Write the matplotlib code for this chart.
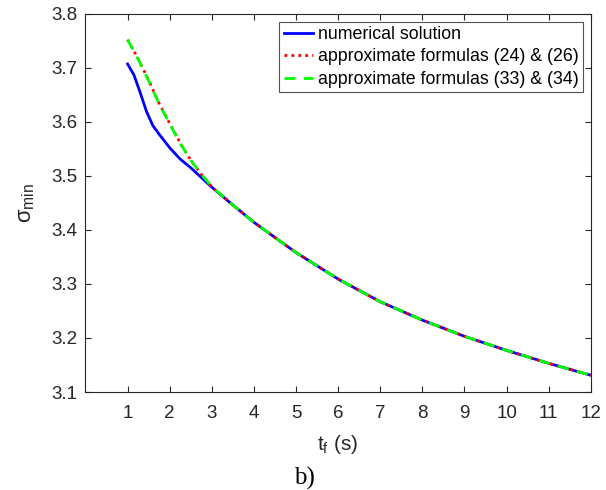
import numpy as np
import matplotlib
matplotlib.use('Agg')
import matplotlib.pyplot as plt

# values
tf_num = [1, 1.15, 1.3, 1.45, 1.6, 1.75, 2, 2.25, 2.5, 3, 3.5, 4, 5, 6, 7, 8, 9, 10, 11, 12]
sig_num = [3.707, 3.687, 3.654, 3.619, 3.593, 3.577, 3.552, 3.531, 3.515, 3.479, 3.446,
           3.414, 3.358, 3.309, 3.267, 3.233, 3.203, 3.177, 3.153, 3.131]

tf_apx = [1, 1.25, 1.5, 1.75, 2, 2.25, 2.5, 2.75, 3, 3.5, 4, 5, 6, 7, 8, 9, 10, 11, 12]
sig_apx1 = [3.752, 3.717, 3.677, 3.634, 3.597, 3.561, 3.529, 3.503, 3.480, 3.446, 3.414,
            3.358, 3.309, 3.267, 3.233, 3.203, 3.177, 3.153, 3.131]
sig_apx2 = [3.752, 3.716, 3.676, 3.633, 3.596, 3.560, 3.529, 3.503, 3.480, 3.446, 3.414,
            3.358, 3.309, 3.267, 3.233, 3.203, 3.177, 3.153, 3.131]

xticks = list(range(1, 13))
yticks = [3.1, 3.2, 3.3, 3.4, 3.5, 3.6, 3.7, 3.8]

plt.rcParams['font.family'] = ['Liberation Sans', 'DejaVu Sans']
plt.rcParams['mathtext.fontset'] = 'custom'
plt.rcParams['mathtext.rm'] = 'Liberation Sans'
plt.rcParams['mathtext.it'] = 'Liberation Sans'

fig = plt.figure(figsize=(6.06, 4.90), dpi=100)
ax = fig.add_axes([0.141, 0.2, 0.834, 0.772])

ax.plot(tf_num, sig_num, color='#0000ff', lw=2, label='numerical solution')
ax.plot(tf_apx, sig_apx1, color='#ff0000', lw=2, ls=(0, (1, 1.5)),
        label='approximate formulas (24) & (26)')
ax.plot(tf_apx, sig_apx2, color='#00ff00', lw=2, ls=(0, (4, 3)),
        label='approximate formulas (33) & (34)')

ax.set_xlim(0, 12)
ax.set_ylim(3.1, 3.8)
ax.set_xticks(xticks)
ax.set_yticks(yticks)
ax.set_yticklabels(['%.1f' % v for v in yticks])
ax.tick_params(direction='in', top=True, right=True, labelsize=13.5,
               length=4, width=0.8, colors='#262626')
ax.tick_params(axis='x', pad=9)
ax.tick_params(axis='y', pad=6)
for s in ax.spines.values():
    s.set_color('#262626')
    s.set_linewidth(0.8)

ax.set_xlabel(r'$\mathregular{t_f}$ (s)', fontsize=15, color='#262626', labelpad=8)
ax.set_ylabel(r'$\mathregular{\sigma_{min}}$', fontsize=16, color='#262626', labelpad=10)

leg = ax.legend(loc='upper right', fontsize=12.8, frameon=True, fancybox=False,
                edgecolor='#262626', borderpad=0.25, labelspacing=0.3,
                handlelength=1.65, handletextpad=0.25, borderaxespad=0.45)
leg.get_frame().set_linewidth(0.8)

fig.text(0.503, 0.012, 'b)', fontsize=18, family='Liberation Serif', ha='center')

fig.savefig('out.png', dpi=100)
